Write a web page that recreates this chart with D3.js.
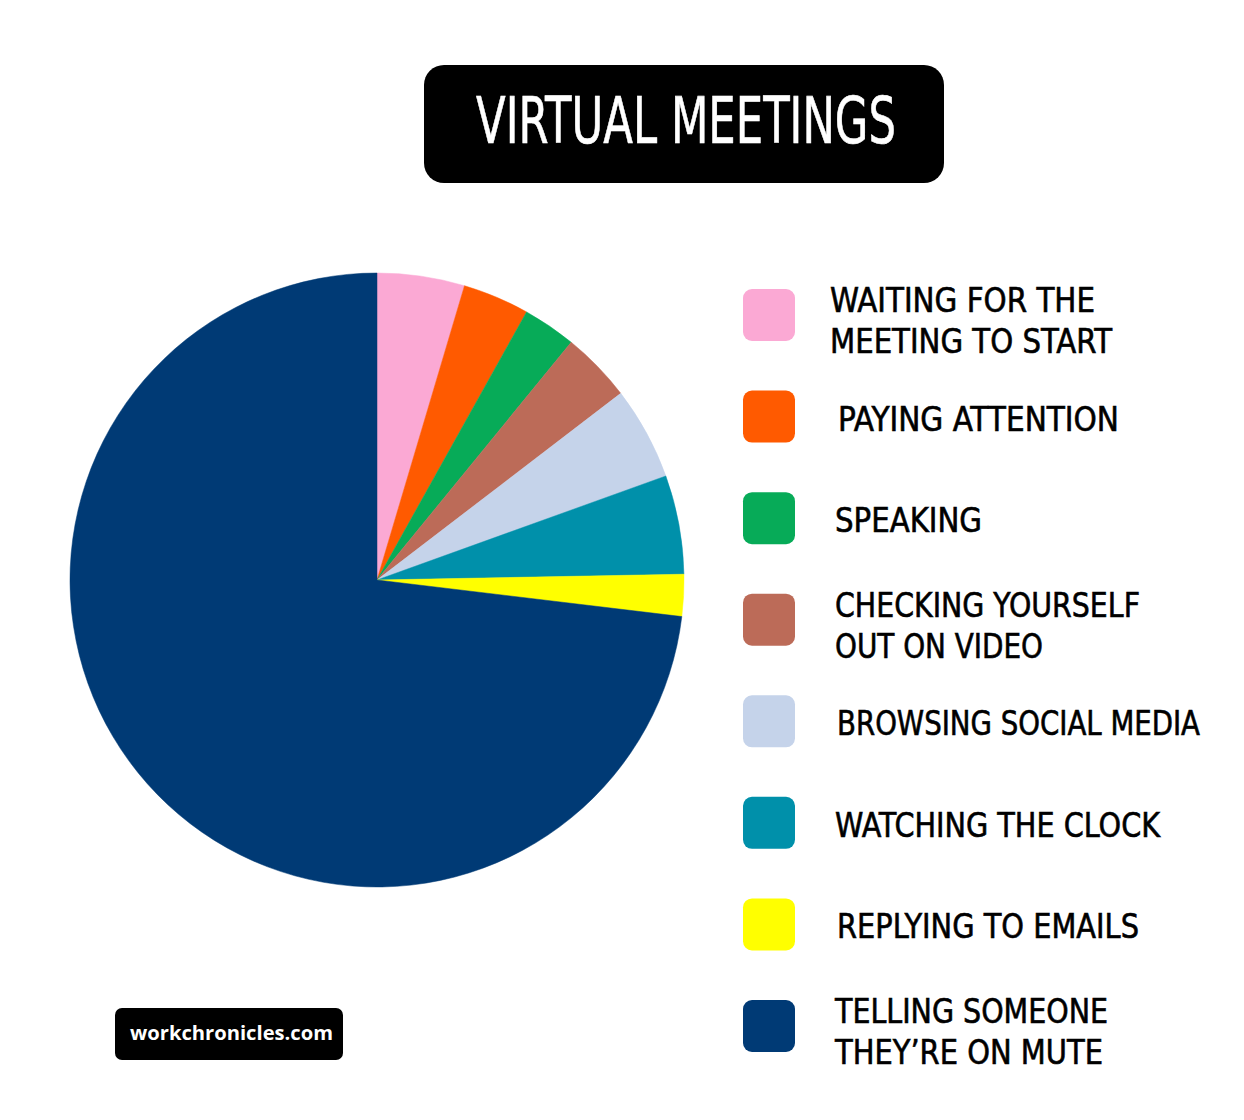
<!DOCTYPE html>
<html>
<head>
<meta charset="utf-8">
<script src="https://cdn.jsdelivr.net/npm/d3@7"></script>
<style>
  html, body { margin: 0; padding: 0; background: #ffffff; }
  svg { display: block; }
</style>
</head>
<body>
<svg id="chart" width="1244" height="1120"></svg>
<script>
// ---- data ----
const title = "VIRTUAL MEETINGS";
const categories = [
  "WAITING FOR THE\nMEETING TO START",
  "PAYING ATTENTION",
  "SPEAKING",
  "CHECKING YOURSELF\nOUT ON VIDEO",
  "BROWSING SOCIAL MEDIA",
  "WATCHING THE CLOCK",
  "REPLYING TO EMAILS",
  "TELLING SOMEONE\nTHEY\u2019RE ON MUTE"
];
const values = [4.6, 3.5, 2.8, 3.7, 4.9, 5.2, 2.2, 73.1];
const colors = ["#FBA9D4", "#FF5A00", "#07AB58", "#BC6B58", "#C5D3EA", "#0090AA", "#FFFF00", "#003A75"];
const watermark = "workchronicles.com";

// ---- drawing ----
const svg = d3.select("#chart");
const handFont = "'Liberation Sans Narrow', 'DejaVu Sans Condensed', 'Roboto Condensed', sans-serif";

// title box
svg.append("rect")
  .attr("x", 424).attr("y", 65).attr("width", 520).attr("height", 118)
  .attr("rx", 20).attr("ry", 20).attr("fill", "#000");
svg.append("text")
  .attr("x", 476).attr("y", 143)
  .attr("font-family", handFont).attr("font-size", 64)
  .attr("fill", "#fff").attr("stroke", "#fff").attr("stroke-width", 0.6)
  .attr("textLength", 420).attr("lengthAdjust", "spacingAndGlyphs")
  .text(title);

// pie
const cx = 377, cy = 580, R = 307;
const pie = d3.pie().value(d => d).sort(null);
const arc = d3.arc().innerRadius(0).outerRadius(R);
const g = svg.append("g").attr("transform", `translate(${cx},${cy})`);
g.selectAll("path")
  .data(pie(values))
  .join("path")
  .attr("d", arc)
  .attr("fill", (d, i) => colors[i])
  .attr("stroke", (d, i) => colors[i])
  .attr("stroke-width", 0.5);

// legend
const legendY = d3.scalePoint().domain(d3.range(categories.length)).range([315, 1026]);
const textWidths = [
  [265, 282], [281], [147], [305, 208], [363], [325], [302], [273, 268]
];
const textX = [830, 838, 835, 835, 837, 835, 837, 835];
const leg = svg.append("g");
categories.forEach((c, i) => {
  const y = legendY(i);
  leg.append("rect")
    .attr("x", 743).attr("y", y - 26).attr("width", 52).attr("height", 52)
    .attr("rx", 9).attr("ry", 9).attr("fill", colors[i]);
  const lines = c.split("\n");
  const lh = 41;
  const base0 = lines.length === 1 ? y + 14 : y - 3;
  lines.forEach((ln, j) => {
    leg.append("text")
      .attr("x", textX[i]).attr("y", base0 + j * lh)
      .attr("font-family", handFont).attr("font-size", 34)
      .attr("fill", "#000").attr("stroke", "#000").attr("stroke-width", 0.6)
      .attr("textLength", textWidths[i][j]).attr("lengthAdjust", "spacingAndGlyphs")
      .text(ln);
  });
});

// watermark
svg.append("rect")
  .attr("x", 115).attr("y", 1008).attr("width", 228).attr("height", 52)
  .attr("rx", 7).attr("ry", 7).attr("fill", "#000");
svg.append("text")
  .attr("x", 130).attr("y", 1040)
  .attr("font-family", "'Open Sans', 'Lato', sans-serif").attr("font-weight", 700)
  .attr("font-size", 20).attr("fill", "#fff")
  .attr("textLength", 203).attr("lengthAdjust", "spacingAndGlyphs")
  .text(watermark);
</script>
</body>
</html>
